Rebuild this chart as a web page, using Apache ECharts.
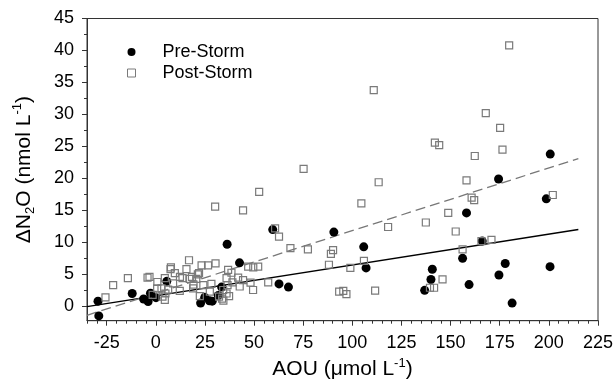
<!DOCTYPE html>
<html>
<head>
<meta charset="utf-8">
<script src="https://cdn.jsdelivr.net/npm/echarts@6/dist/echarts.min.js"></script>
<style>html,body{margin:0;padding:0;background:#fff}#c{width:616px;height:381px}</style>
</head>
<body>
<div id="c"></div>
<script>
// ---- data ----
const preStorm = [
  [-29.4,0.8],[-29.0,-1.5],[-12.0,2.0],[-6.2,1.15],[-3.9,0.75],[-2.7,2.05],[0.1,1.35],[5.6,3.9],
  [22.8,0.5],[24.9,1.4],[27.3,0.85],[28.7,0.8],[31.8,1.7],[33.5,3.0],[36.3,9.7],[42.6,6.8],
  [59.5,12.0],[62.7,3.5],[67.5,3.0],
  [90.6,11.6],[105.8,9.3],[107.0,6.0],[136.8,2.5],[140.0,4.2],[140.7,5.8],[156.1,7.5],
  [158.1,14.6],[159.4,3.4],[166.1,10.2],[174.4,19.9],[174.6,4.9],[177.8,6.7],[181.3,0.5],
  [198.7,16.8],[200.7,23.8],[200.6,6.2]
];
const postStorm = [
  [-25.6,1.4],[-21.7,3.3],[-14.2,4.4],[-4.2,4.5],[-3.2,4.6],[-1.6,1.8],[0.8,3.8],[0.7,2.8],
  [2.9,2.8],[3.4,1.5],[4.6,1.0],[4.6,4.4],[4.9,2.0],[6.3,2.6],[7.5,5.8],[7.7,6.1],[8.8,3.6],
  [9.7,5.2],[12.3,4.6],[12.2,2.4],[13.6,4.4],[15.6,5.8],[16.9,7.2],[17.3,4.3],[18.4,4.6],
  [19.0,2.8],[19.2,3.4],[20.6,4.3],[21.4,5.0],[22.0,5.2],[22.4,1.6],[23.3,6.4],[24.2,3.3],
  [26.6,6.4],[27.5,2.3],[28.3,3.5],[30.4,6.7],[30.2,15.6],[32.2,1.5],[33.7,1.2],[34.4,0.9],
  [34.3,2.55],[36.0,2.0],[36.5,3.3],[36.0,4.4],[36.8,5.7],[38.5,5.25],[39.0,3.75],[37.3,1.6],
  [41.9,4.5],[42.7,3.1],[44.4,4.1],[44.4,15.0],[47.0,6.2],[48.2,3.7],[49.6,6.1],[49.5,2.55],
  [52.1,6.2],[52.6,17.9],[57.2,3.75],[60.7,12.2],[62.7,10.9],[68.5,9.1],[75.2,21.5],[77.4,8.9],
  [88.1,6.5],[89.1,8.2],[90.2,8.8],[93.3,2.3],[95.4,2.4],[97.0,1.9],[99.0,6.0],[104.6,16.1],
  [105.9,7.1],[110.9,33.8],[111.6,2.45],[113.4,19.4],[118.2,12.4],[137.4,13.1],[139.5,2.9],
  [141.6,2.9],[142.0,25.6],[144.2,25.2],[145.9,4.2],[148.8,14.6],[152.6,11.7],[156.1,8.9],
  [158.1,19.7],[160.7,17.0],[162.0,16.6],[162.3,23.5],[165.7,10.2],[167.9,30.2],[170.8,10.4],
  [175.2,27.9],[176.4,24.5],[179.8,40.8],[202.0,17.4]
];
const preFit = [[-35,-0.05],[215,12.0]];
const postFit = [[-35,-1.4],[215,23.1]];
const xTicks = [-25,0,25,50,75,100,125,150,175,200,225];
const xMinorTicks = [-35,-30,-25,-20,-15,-10,-5,0,5,10,15,20,25,30,35,40,45,50,55,60,65,70,75,80,85,90,95,100,105,110,115,120,125,130,135,140,145,150,155,160,165,170,175,180,185,190,195,200,205,210,215,220,225];
const yTicks = [0,5,10,15,20,25,30,35,40,45];
const yMinorTicks = [0,2.5,5,7.5,10,12.5,15,17.5,20,22.5,25,27.5,30,32.5,35,37.5,40,42.5,45];

const FONT = "'Liberation Sans', Arial, Helvetica, sans-serif";
const AX = '#333';
const chart = echarts.init(document.getElementById('c'), null, {renderer:'canvas'});
const xRange = {min:-35, max:225};
const yRange = {min:-2.25, max:45};
chart.setOption({
  animation:false,
  backgroundColor:'#fff',
  textStyle:{fontFamily:FONT},
  grid:{left:87, right:18, top:18.5, bottom:60.3, show:true, borderColor:AX, borderWidth:1, backgroundColor:'transparent', containLabel:false, outerBoundsMode:'none'},
  legend:{
    orient:'vertical', left:122, top:38, padding:[5,5,5,5], itemWidth:8, itemHeight:8, itemGap:3,
    textStyle:{fontSize:18, color:'#000', fontFamily:FONT, padding:[0,0,0,22]},
    data:[{name:'Pre-Storm'},{name:'Post-Storm', itemStyle:{borderWidth:1}}]
  },
  xAxis:[
    {type:'value', ...xRange, position:'bottom',
     name:'{a|AOU (μmol L}{s|-1}{a|)}', nameLocation:'middle', nameGap:28,
     nameTextStyle:{rich:{a:{fontSize:21, lineHeight:26, color:'#000', fontFamily:FONT}, s:{fontSize:13, verticalAlign:'top', color:'#000', fontFamily:FONT}}},
     axisLine:{show:true, onZero:false, lineStyle:{color:AX, width:1}},
     axisTick:{show:true, inside:false, length:5, customValues:xTicks, lineStyle:{color:AX}},
     axisLabel:{show:true, customValues:xTicks, fontSize:18, color:'#000', margin:13, fontFamily:FONT},
     splitLine:{show:false}},
    {type:'value', ...xRange, position:'bottom',
     axisLine:{show:false, onZero:false},
     axisTick:{show:true, inside:false, length:3, customValues:xMinorTicks, lineStyle:{color:AX}},
     axisLabel:{show:false}, splitLine:{show:false}}
  ],
  yAxis:[
    {type:'value', ...yRange, position:'left',
     name:'{a|ΔN}{b|2}{a|O (nmol L}{s|-1}{a|)}', nameLocation:'middle', nameGap:50,
     nameTextStyle:{rich:{a:{fontSize:21, lineHeight:26, color:'#000', fontFamily:FONT}, b:{fontSize:13, verticalAlign:'bottom', color:'#000', fontFamily:FONT}, s:{fontSize:13, verticalAlign:'top', color:'#000', fontFamily:FONT}}},
     axisLine:{show:true, onZero:false, lineStyle:{color:AX, width:1}},
     axisTick:{show:true, inside:false, length:5, customValues:yTicks, lineStyle:{color:AX}},
     axisLabel:{show:true, customValues:yTicks, fontSize:18, color:'#000', margin:13, fontFamily:FONT},
     splitLine:{show:false}},
    {type:'value', ...yRange, position:'left',
     axisLine:{show:false, onZero:false},
     axisTick:{show:true, inside:false, length:3, customValues:yMinorTicks, lineStyle:{color:AX}},
     axisLabel:{show:false}, splitLine:{show:false}}
  ],
  series:[
    {name:'preFit', type:'line', data:preFit, symbol:'none', silent:true, z:1,
     lineStyle:{color:'#000', width:1.5}},
    {name:'postFit', type:'line', data:postFit, symbol:'none', silent:true, z:1,
     lineStyle:{color:'#777', width:1.3, type:[10,5]}},
    {name:'Pre-Storm', type:'scatter', data:preStorm, symbol:'circle', symbolSize:9, z:2,
     itemStyle:{color:'#000', opacity:1}},
    {name:'Post-Storm', type:'scatter', data:postStorm, symbol:'rect', symbolSize:7, z:3,
     itemStyle:{color:'rgba(255,255,255,0)', borderColor:'#7a7a7a', borderWidth:1.2, opacity:1}}
  ]
});
</script>
</body>
</html>
